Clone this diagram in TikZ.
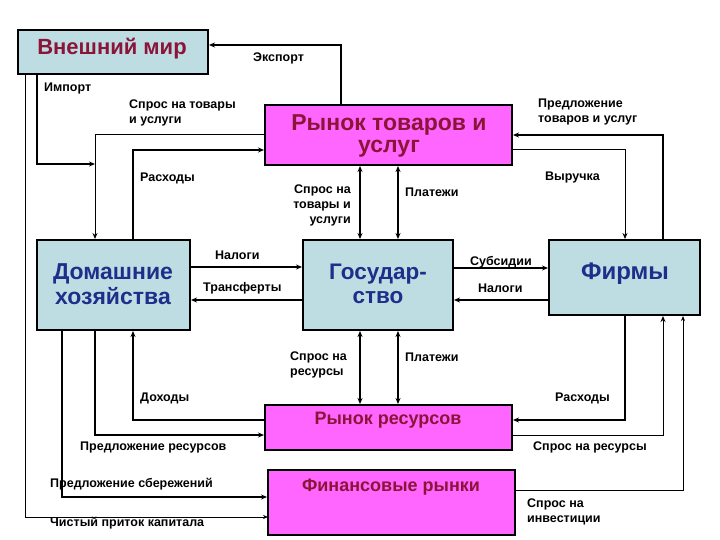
\documentclass[tikz,border=0pt]{standalone}
\usepackage{fontspec}
\setmainfont{Liberation Sans}
\usetikzlibrary{arrows.meta}
\definecolor{lb}{HTML}{BEDDE2}
\definecolor{mg}{HTML}{FF66FF}
\definecolor{dred}{HTML}{8A1538}
\definecolor{dblue}{HTML}{1F2E8A}
\newcommand{\myfs}[1]{\fontsize{#1pt}{\dimexpr #1pt*6/5\relax}\selectfont}
\begin{document}
\begin{tikzpicture}[x=1pt,y=-1pt,
  box/.style={draw=black,line width=2.5pt,inner sep=0pt},
  lab/.style={font=\bfseries\myfs{12.5},inner sep=0pt,align=left,anchor=west},
  con/.style={line width=1.6pt,-{Stealth[length=6pt,width=5pt]}},
  dcon/.style={line width=1.6pt,{Stealth[length=6pt,width=5pt]}-{Stealth[length=6pt,width=5pt]}},
  ttl/.style={font=\bfseries\myfs{#1},align=center}]
\useasboundingbox[fill=white] (0,0) rectangle (720,540);
% boxes
\fill[lb] (18,30) rectangle (208,74); \draw[box] (18,30) rectangle (208,74);
\node[ttl=22,text=dred] (ext) at (112,49) {Внешний мир};
\fill[mg] (265,105) rectangle (512,165); \draw[box] (265,105) rectangle (512,165);
\node[ttl=23,text=dred] (gm) at (389,136) {Рынок товаров и\\[-5pt]услуг};
\fill[lb] (37,240) rectangle (190,330); \draw[box] (37,240) rectangle (190,330);
\node[ttl=23,text=dblue] (hh) at (113,284) {Домашние\\[-3pt]хозяйства};
\fill[lb] (303,240) rectangle (453,330); \draw[box] (303,240) rectangle (453,330);
\node[ttl=22.5,text=dblue] (gov) at (378,284) {Государ-\\[-3pt]ство};
\fill[lb] (549,240) rectangle (700,315); \draw[box] (549,240) rectangle (700,315);
\node[ttl=24,text=dblue] (fi) at (625,274) {Фирмы};
\fill[mg] (265,405) rectangle (512,450); \draw[box] (265,405) rectangle (512,450);
\node[ttl=18,text=dred] (rm) at (388,420) {Рынок ресурсов};
\fill[mg] (268,470) rectangle (515,535); \draw[box] (268,470) rectangle (515,535);
\node[ttl=18,text=dred] (fm) at (391,487) {Финансовые рынки};
% coordinates
\coordinate (a1) at (341,105); \coordinate (a2) at (341,45); \coordinate (a3) at (209,45);
\coordinate (b1) at (37,74); \coordinate (b2) at (37,164); \coordinate (b3) at (95,164);
\coordinate (c1) at (265,135); \coordinate (c2) at (95,135); \coordinate (c3) at (95,239);
\coordinate (d1) at (133,240); \coordinate (d2) at (133,150); \coordinate (d3) at (264,150);
\coordinate (e1) at (25,74); \coordinate (e2) at (25,517); \coordinate (e3) at (268,517);
\coordinate (f1) at (663,240); \coordinate (f2) at (663,135); \coordinate (f3) at (513,135);
\coordinate (g1) at (512,150); \coordinate (g2) at (625,150); \coordinate (g3) at (625,239);
\draw[con] (a1) -- (a2) -- (a3);
\draw[con] (b1) -- (b2) -- (b3);
\draw[con,line width=1pt] (c1) -- (c2) -- (c3);
\draw[con] (d1) -- (d2) -- (d3);
\draw[line width=0.8pt,-{Stealth[length=5pt,width=4pt]}] (e1) -- (e2) -- (e3);
\draw[con] (f1) -- (f2) -- (f3);
\draw[con,line width=1pt] (g1) -- (g2) -- (g3);
\draw[dcon] (360,166) -- (360,239);
\draw[dcon] (398,166) -- (398,239);
\draw[dcon] (360,331) -- (360,404);
\draw[dcon] (398,331) -- (398,404);
\draw[con] (191,267) -- (302,267);
\draw[con] (303,300) -- (191,300);
\draw[con] (453,268) -- (548,268);
\draw[con] (549,300) -- (454,300);
\coordinate (h1) at (265,420); \coordinate (h2) at (133,420); \coordinate (h3) at (133,331);
\draw[con] (h1) -- (h2) -- (h3);
\draw[con] (95,330) -- (95,435) -- (264,435);
\draw[con] (62,330) -- (62,497) -- (267,497);
\draw[con] (625,315) -- (625,420) -- (513,420);
\draw[con,line width=1pt] (512,435) -- (663,435) -- (663,316);
\draw[line width=0.8pt,-{Stealth[length=5pt,width=4pt]}] (515,490) -- (683,490) -- (683,316);
% labels
\node[lab] at (253,58) {Экспорт};
\node[lab] at (44,88) {Импорт};
\node[lab] at (129,113) {Спрос на товары\\и услуги};
\node[lab] at (140,178) {Расходы};
\node[lab,align=right,anchor=east] at (351,205) {Спрос на\\товары и\\услуги};
\node[lab] at (405,192) {Платежи};
\node[lab] at (538,112) {Предложение\\товаров и услуг};
\node[lab] at (545,177) {Выручка};
\node[lab] at (215,255) {Налоги};
\node[lab] at (203,288) {Трансферты};
\node[lab] at (470,262) {Субсидии};
\node[lab] at (478,288) {Налоги};
\node[lab] at (290,365) {Спрос на\\ресурсы};
\node[lab] at (405,357) {Платежи};
\node[lab] at (140,398) {Доходы};
\node[lab] at (555,398) {Расходы};
\node[lab] at (80,447) {Предложение ресурсов};
\node[lab] at (533,447) {Спрос на ресурсы};
\node[lab] at (50,484) {Предложение сбережений};
\node[lab] at (50,523) {Чистый приток капитала};
\node[lab] at (527,512) {Спрос на\\инвестиции};
\end{tikzpicture}
\end{document}
